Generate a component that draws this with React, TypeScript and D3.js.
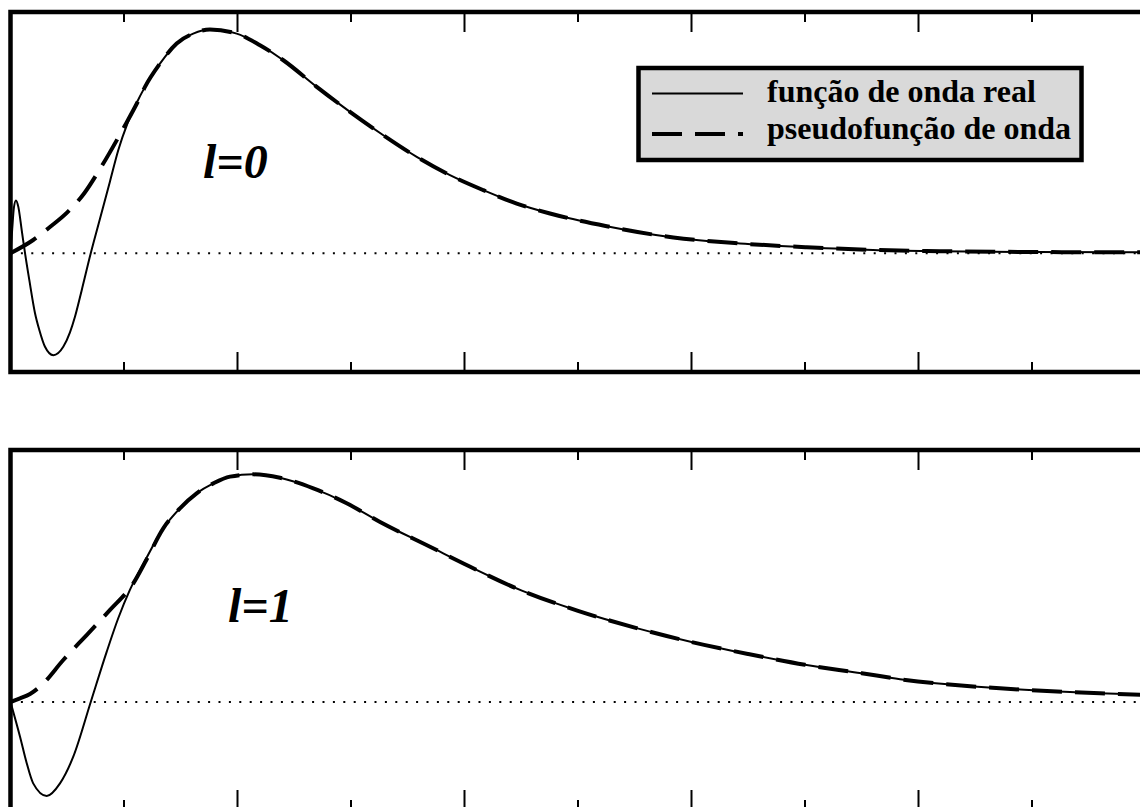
import React from "react";
import * as d3 from "d3";

// radial coordinate r (arbitrary units); ticks every unit
const R_DOMAIN: [number, number] = [0, 10];
const R_TICKS = [1, 2, 3, 4, 5, 6, 7, 8, 9];

// l = 0 : all-electron wave function inside the core
const realR0 = [0, 0.015, 0.03, 0.048, 0.069, 0.099, 0.128, 0.166, 0.216, 0.254, 0.304, 0.377, 0.465, 0.524, 0.568, 0.627, 0.707, 0.789, 0.877, 0.95, 1.03, 1.11];
const realPsi0 = [0, 0.2, 0.38, 0.44, 0.386, 0.19, 0, -0.225, -0.5, -0.64, -0.78, -0.85, -0.78, -0.66, -0.53, -0.31, 0, 0.29, 0.6, 0.86, 1.08, 1.25];
// l = 0 : pseudo wave function inside the core
const pseudoR0 = [0, 0.2, 0.35, 0.5, 0.65, 0.8, 1.0, 1.12];
const pseudoPsi0 = [0, 0.11, 0.22, 0.34, 0.5, 0.72, 1.05, 1.26];
// l = 0 : common tail outside the core
const tailR0 = [1.185, 1.317, 1.464, 1.61, 1.757, 1.993, 2.198, 2.404, 2.698, 2.991, 3.285, 3.579, 3.872, 4.166, 4.46, 4.753, 5.253, 5.84, 6.427, 7.015, 7.6, 8.19, 8.98, 10];
const tailPsi0 = [1.386, 1.58, 1.748, 1.83, 1.864, 1.83, 1.733, 1.608, 1.386, 1.178, 0.983, 0.803, 0.65, 0.525, 0.414, 0.331, 0.225, 0.131, 0.081, 0.05, 0.0275, 0.017, 0.01, 0.007];

// l = 1 : all-electron wave function inside the core
const realR1 = [0, 0.084, 0.143, 0.2, 0.319, 0.436, 0.553, 0.707, 0.848, 0.95, 1.05, 1.17];
const realPsi1 = [0, -0.289, -0.51, -0.678, -0.783, -0.678, -0.456, 0, 0.42, 0.7, 0.93, 1.15];
// l = 1 : pseudo wave function inside the core
const pseudoR1 = [0, 0.084, 0.172, 0.275, 0.465, 0.671, 0.877, 1.082, 1.2];
const pseudoPsi1 = [0, 0.03, 0.067, 0.142, 0.35, 0.558, 0.767, 0.989, 1.19];
// l = 1 : common tail outside the core
const tailR1 = [1.346, 1.493, 1.64, 1.787, 1.934, 2.139, 2.374, 2.668, 2.962, 3.256, 3.696, 4.0, 4.5, 5.0, 5.5, 6.0, 6.5, 7.0, 7.5, 7.837, 8.718, 9.599, 10];
const tailPsi1 = [1.447, 1.614, 1.739, 1.822, 1.878, 1.897, 1.869, 1.78, 1.656, 1.5, 1.294, 1.15, 0.93, 0.76, 0.62, 0.5, 0.4, 0.31, 0.24, 0.19, 0.114, 0.0725, 0.06];

const LEGEND_LABELS = ["função de onda real", "pseudofunção de onda"];
const PANEL_LABELS = ["l=0", "l=1"];

const W = 1140;
const H = 807;
const FRAME_W = 4.5;
const DASH = "30 13";
const SERIF = "'Liberation Serif', 'Times New Roman', serif";

const x = d3.scaleLinear().domain(R_DOMAIN).range([10.5, 1145.5]);

type Pt = [number, number];
const zip = (rs: number[], ps: number[]): Pt[] => rs.map((r, i) => [r, ps[i]] as Pt);

interface PanelSpec {
  id: string;
  top: number;
  bottom: number;
  yDomain: [number, number];
  real: Pt[];
  pseudo: Pt[];
  label: string;
  labelX: number;
  labelY: number;
  legend: boolean;
}

const panels: PanelSpec[] = [
  {
    id: "p0",
    top: 12,
    bottom: 372,
    yDomain: [-0.99, 2.01],
    real: [...zip(realR0, realPsi0), ...zip(tailR0, tailPsi0)],
    pseudo: [...zip(pseudoR0, pseudoPsi0), ...zip(tailR0, tailPsi0)],
    label: PANEL_LABELS[0],
    labelX: 203,
    labelY: 178,
    legend: true,
  },
  {
    id: "p1",
    top: 450,
    bottom: 810,
    yDomain: [-0.9, 2.1],
    real: [...zip(realR1, realPsi1), ...zip(tailR1, tailPsi1)],
    pseudo: [...zip(pseudoR1, pseudoPsi1), ...zip(tailR1, tailPsi1)],
    label: PANEL_LABELS[1],
    labelX: 228,
    labelY: 622,
    legend: false,
  },
];

function Panel({ p }: { p: PanelSpec }) {
  const y = d3.scaleLinear().domain(p.yDomain).range([p.bottom, p.top]);
  const line = d3
    .line<Pt>()
    .x((d) => x(d[0]))
    .y((d) => y(d[1]))
    .curve(d3.curveMonotoneX);
  const [x0, x1] = x.range();
  return (
    <g>
      <defs>
        <clipPath id={`clip-${p.id}`}>
          <rect x={x0} y={p.top} width={x1 - x0} height={p.bottom - p.top} />
        </clipPath>
      </defs>
      <g clipPath={`url(#clip-${p.id})`}>
        <line x1={x0} x2={x1} y1={y(0)} y2={y(0)} stroke="#000" strokeWidth={2} strokeDasharray="2 8.4" />
        <path d={line(p.pseudo) ?? ""} fill="none" stroke="#000" strokeWidth={4} strokeDasharray={DASH} />
        <path d={line(p.real) ?? ""} fill="none" stroke="#000" strokeWidth={2} />
      </g>
      {R_TICKS.map((t) => {
        const len = t % 2 === 0 ? 20 : 10;
        return (
          <g key={t}>
            <line x1={x(t)} x2={x(t)} y1={p.top} y2={p.top + len} stroke="#000" strokeWidth={2} />
            <line x1={x(t)} x2={x(t)} y1={p.bottom} y2={p.bottom - len} stroke="#000" strokeWidth={2} />
          </g>
        );
      })}
      <rect x={x0} y={p.top} width={x1 - x0} height={p.bottom - p.top} fill="none" stroke="#000" strokeWidth={FRAME_W} />
      <text
        x={p.labelX}
        y={p.labelY}
        fontFamily={SERIF}
        fontWeight="bold"
        fontStyle="italic"
        fontSize={48}
        fill="#000"
      >
        {p.label}
      </text>
      {p.legend && (
        <g>
          <rect x={638.5} y={68} width={443} height={92} fill="#d9d9d9" stroke="#000" strokeWidth={FRAME_W} />
          <line x1={652} x2={743} y1={93.5} y2={93.5} stroke="#000" strokeWidth={2} />
          <line x1={652} x2={743} y1={134} y2={134} stroke="#000" strokeWidth={4} strokeDasharray={DASH} />
          <text x={767} y={102} fontFamily={SERIF} fontWeight="bold" fontSize={32} fill="#000">
            {LEGEND_LABELS[0]}
          </text>
          <text x={767} y={139} fontFamily={SERIF} fontWeight="bold" fontSize={32} fill="#000">
            {LEGEND_LABELS[1]}
          </text>
        </g>
      )}
    </g>
  );
}

export default function App() {
  return (
    <svg
      width={W}
      height={H}
      viewBox={`0 0 ${W} ${H}`}
      style={{ position: "absolute", left: 0, top: 0, background: "#fff" }}
    >
      <rect x={0} y={0} width={W} height={H} fill="#fff" />
      {panels.map((p) => (
        <Panel key={p.id} p={p} />
      ))}
    </svg>
  );
}
